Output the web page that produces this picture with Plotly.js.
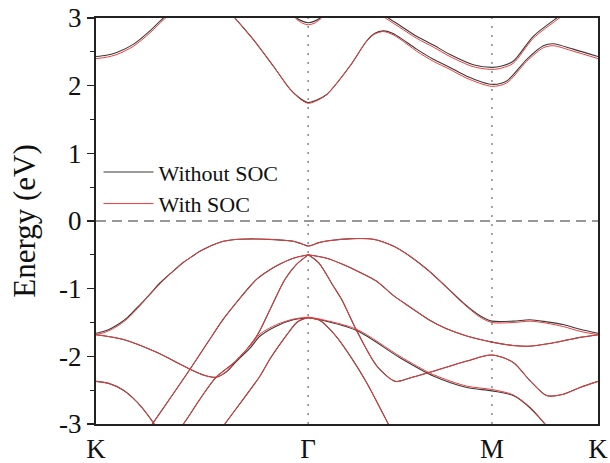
<!DOCTYPE html>
<html>
<head>
<meta charset="utf-8">
<script src="https://cdn.plot.ly/plotly-3.0.1.min.js"></script>
<style>html,body{margin:0;padding:0;background:#fff;}#chart{width:610px;height:463px;}</style>
</head>
<body>
<div id="chart"></div>
<script>
// High-symmetry path (k in units of the path length)
const kPath = [0, 1.3333, 2.4880, 3.1547];
const kLabels = ['K', 'Γ', 'M', 'K'];
const yTicks = [-3, -2, -1, 0, 1, 2, 3];
const yTickLabels = ['-3', '-2', '-1', '0', '1', '2', '3'];
const fermiLevel = 0;

// Conduction bands
const cb1a_k = [0, 0.065, 0.13, 0.234, 0.339, 0.423, 0.47];
const cb1a_noSOC = [2.43, 2.45, 2.49, 2.61, 2.81, 3.00, 3.10];
const cb1a_SOC = [2.40, 2.42, 2.46, 2.58, 2.78, 2.97, 3.07];

const cb1b_k = [0.837, 0.873, 0.989, 1.114, 1.219, 1.29, 1.334, 1.38, 1.45, 1.596, 1.701, 1.75, 1.805, 1.86, 1.91, 2.015, 2.12, 2.225, 2.33, 2.488, 2.581, 2.707, 2.811, 2.874, 2.999, 3.1547];
const cb1b_noSOC = [3.10, 3.00, 2.68, 2.29, 1.95, 1.80, 1.75, 1.78, 1.87, 2.29, 2.66, 2.77, 2.81, 2.78, 2.71, 2.54, 2.39, 2.27, 2.14, 2.02, 2.07, 2.39, 2.59, 2.62, 2.54, 2.43];
const cb1b_SOC = [3.10, 3.00, 2.68, 2.29, 1.95, 1.79, 1.74, 1.77, 1.87, 2.29, 2.66, 2.76, 2.80, 2.76, 2.69, 2.51, 2.36, 2.24, 2.11, 1.99, 2.04, 2.36, 2.56, 2.59, 2.51, 2.40];

const cb2_k = [1.80, 1.837, 1.91, 2.015, 2.12, 2.225, 2.371, 2.488, 2.55, 2.622, 2.748, 2.895, 2.93];
const cb2_noSOC = [3.06, 3.00, 2.89, 2.73, 2.60, 2.46, 2.31, 2.27, 2.29, 2.36, 2.73, 3.00, 3.06];
const cb2_SOC = [3.03, 2.97, 2.86, 2.70, 2.57, 2.43, 2.28, 2.24, 2.26, 2.33, 2.70, 2.97, 3.03];

const cb3_k = [1.24, 1.261, 1.30, 1.334, 1.37, 1.408, 1.43];
const cb3_noSOC = [3.05, 3.00, 2.95, 2.93, 2.95, 3.00, 3.05];
const cb3_SOC = [3.03, 2.98, 2.92, 2.90, 2.92, 2.98, 3.03];

// Valence bands
const v1_k = [0, 0.05, 0.10, 0.15, 0.20, 0.25, 0.30, 0.35, 0.40, 0.45, 0.50, 0.55, 0.60, 0.65, 0.70, 0.75, 0.80, 0.85, 0.90, 1.00, 1.12, 1.24, 1.29, 1.334, 1.40, 1.45, 1.617, 1.743, 1.868, 1.973, 2.078, 2.204, 2.308, 2.413, 2.488, 2.622, 2.727, 2.832, 2.937, 3.042, 3.1547];
const v1_noSOC = [-1.66, -1.63, -1.58, -1.51, -1.42, -1.30, -1.18, -1.05, -0.92, -0.81, -0.71, -0.61, -0.53, -0.45, -0.39, -0.34, -0.30, -0.28, -0.27, -0.265, -0.275, -0.30, -0.335, -0.37, -0.32, -0.295, -0.26, -0.27, -0.37, -0.52, -0.71, -0.98, -1.21, -1.40, -1.48, -1.48, -1.46, -1.49, -1.53, -1.60, -1.66];
const v1_SOC = [-1.68, -1.65, -1.60, -1.53, -1.44, -1.32, -1.19, -1.06, -0.93, -0.82, -0.71, -0.61, -0.53, -0.45, -0.39, -0.34, -0.30, -0.28, -0.27, -0.265, -0.275, -0.30, -0.335, -0.37, -0.32, -0.295, -0.26, -0.27, -0.37, -0.52, -0.71, -0.98, -1.22, -1.42, -1.50, -1.50, -1.48, -1.51, -1.56, -1.63, -1.68];

const v2_k = [0, 0.172, 0.381, 0.591, 0.68, 0.754, 0.82, 0.884, 0.968, 1.031, 1.136, 1.240, 1.334];
const v2_noSOC = [-1.68, -1.75, -1.94, -2.19, -2.28, -2.31, -2.23, -2.07, -1.88, -1.70, -1.55, -1.46, -1.43];
const v2_SOC = [-1.68, -1.75, -1.94, -2.19, -2.28, -2.31, -2.22, -2.05, -1.85, -1.67, -1.53, -1.45, -1.42];

const v3_k = [0.33, 0.36, 0.591, 0.737, 0.80, 1.010, 1.093, 1.136, 1.24, 1.334];
const v3_E = [-3.08, -2.98, -2.19, -1.67, -1.45, -0.86, -0.72, -0.66, -0.55, -0.50];

const v4_k = [0.52, 0.549, 0.654, 0.754, 0.884, 1.01, 1.093, 1.188, 1.26, 1.334];
const v4_E = [-3.07, -3.00, -2.63, -2.31, -2.06, -1.70, -1.31, -0.86, -0.64, -0.50];

const v5_k = [0.79, 0.81, 1.031, 1.093, 1.20, 1.261, 1.30, 1.334];
const v5_E = [-3.07, -3.00, -2.29, -2.04, -1.68, -1.50, -1.45, -1.43];

const v6_k = [0, 0.08, 0.172, 0.26, 0.36, 0.38];
const v6_E = [-2.37, -2.40, -2.50, -2.68, -2.98, -3.06];

const v7_k = [1.334, 1.45, 1.55, 1.66, 1.764, 1.868, 1.973, 2.10, 2.20, 2.33, 2.488, 2.62, 2.72, 2.85, 2.958, 3.042, 3.1547];
const v7_E = [-0.50, -0.55, -0.64, -0.76, -0.89, -1.10, -1.27, -1.47, -1.59, -1.70, -1.79, -1.84, -1.85, -1.81, -1.76, -1.72, -1.68];

const v8_k = [1.334, 1.40, 1.491, 1.544, 1.638, 1.764, 1.88, 1.973, 2.12, 2.33, 2.488, 2.622, 2.727, 2.832, 2.937, 3.042, 3.1547];
const v8_E = [-0.50, -0.62, -0.96, -1.16, -1.62, -2.14, -2.37, -2.32, -2.22, -2.07, -1.98, -2.09, -2.36, -2.58, -2.56, -2.46, -2.37];

const v9_k = [1.334, 1.408, 1.638, 1.910, 2.120, 2.330, 2.488, 2.622, 2.727, 2.822, 2.86];
const v9_noSOC = [-1.43, -1.46, -1.62, -2.02, -2.29, -2.46, -2.51, -2.58, -2.76, -3.00, -3.10];
const v9_SOC = [-1.42, -1.45, -1.60, -2.00, -2.27, -2.44, -2.49, -2.57, -2.75, -3.00, -3.10];

const v10_k = [1.334, 1.408, 1.50, 1.596, 1.701, 1.837, 1.86];
const v10_E = [-1.43, -1.47, -1.68, -1.99, -2.39, -3.00, -3.10];

const bands = [
  {k: cb1a_k, noSOC: cb1a_noSOC, soc: cb1a_SOC},
  {k: cb1b_k, noSOC: cb1b_noSOC, soc: cb1b_SOC},
  {k: cb2_k, noSOC: cb2_noSOC, soc: cb2_SOC},
  {k: cb3_k, noSOC: cb3_noSOC, soc: cb3_SOC},
  {k: v1_k, noSOC: v1_noSOC, soc: v1_SOC},
  {k: v2_k, noSOC: v2_noSOC, soc: v2_SOC},
  {k: v3_k, noSOC: v3_E, soc: v3_E},
  {k: v4_k, noSOC: v4_E, soc: v4_E},
  {k: v5_k, noSOC: v5_E, soc: v5_E},
  {k: v6_k, noSOC: v6_E, soc: v6_E},
  {k: v7_k, noSOC: v7_E, soc: v7_E},
  {k: v8_k, noSOC: v8_E, soc: v8_E},
  {k: v9_k, noSOC: v9_noSOC, soc: v9_SOC},
  {k: v10_k, noSOC: v10_E, soc: v10_E}
];

const blackColor = '#3a3a3a';
const redColor = '#ee3b3b';
const traces = [];
bands.forEach((b, i) => {
  traces.push({
    x: b.k, y: b.noSOC, type: 'scatter', mode: 'lines',
    line: {color: blackColor, width: 1.1, shape: 'spline', smoothing: 0.8},
    name: 'Without SOC', legendgroup: 'no', showlegend: i === 0, hoverinfo: 'skip'
  });
});
bands.forEach((b, i) => {
  traces.push({
    x: b.k, y: b.soc, type: 'scatter', mode: 'lines',
    line: {color: redColor, width: 1.0, shape: 'spline', smoothing: 0.8},
    name: 'With SOC', legendgroup: 'soc', showlegend: i === 0, hoverinfo: 'skip'
  });
});

const serif = 'Liberation Serif';
const shapes = [
  {type: 'line', xref: 'paper', x0: 0, x1: 1, yref: 'y', y0: fermiLevel, y1: fermiLevel,
   line: {color: '#777', width: 1.5, dash: '10px,6px'}, layer: 'below'}
];
kPath.slice(1, -1).forEach(kv => {
  shapes.push({type: 'line', xref: 'x', x0: kv, x1: kv, yref: 'paper', y0: 0, y1: 1,
    line: {color: '#888', width: 1.5, dash: '2px,7px'}, layer: 'below'});
});

const layout = {
  width: 610, height: 463,
  margin: {l: 96, r: 12, t: 18, b: 39},
  paper_bgcolor: '#fff', plot_bgcolor: '#fff',
  showlegend: true,
  legend: {x: 0.005, y: 0.672, xanchor: 'left', yanchor: 'top', bgcolor: 'rgba(0,0,0,0)',
    font: {family: serif, size: 22, color: '#111'}, itemwidth: 50, tracegroupgap: 0},
  xaxis: {
    range: [kPath[0], kPath[kPath.length - 1]], tickmode: 'array', tickvals: kPath, ticktext: kLabels,
    ticks: '', showline: true, mirror: true, linecolor: '#222', linewidth: 2,
    showgrid: false, zeroline: false,
    tickfont: {family: serif, size: 27, color: '#111'}
  },
  yaxis: {
    range: [-3, 3], tickmode: 'array', tickvals: yTicks, ticktext: yTickLabels,
    ticks: 'outside', ticklen: 7, tickwidth: 1.5, tickcolor: '#222',
    minor: {tickmode: 'linear', tick0: -3, dtick: 0.5, ticks: 'outside', ticklen: 4, tickwidth: 1.2, tickcolor: '#222', showgrid: false},
    showline: true, mirror: true, linecolor: '#222', linewidth: 2,
    showgrid: false, zeroline: false,
    tickfont: {family: serif, size: 27, color: '#111'},
    title: {text: 'Energy (eV)', font: {family: serif, size: 31, color: '#111'}, standoff: 14}
  },
  shapes: shapes
};

Plotly.newPlot('chart', traces, layout, {displayModeBar: false, staticPlot: true});
</script>
</body>
</html>
